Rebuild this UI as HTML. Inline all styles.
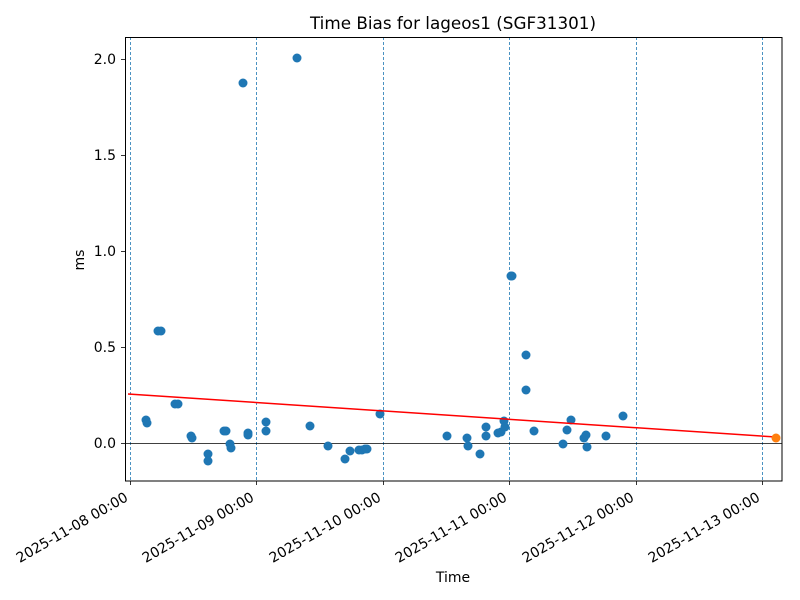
<!DOCTYPE html>
<html><head><meta charset="utf-8"><style>body{margin:0;background:#fff}svg{display:block}text{font-family:"DejaVu Sans","Liberation Sans",sans-serif;fill:#000}</style></head><body>
<svg width="800" height="600" xmlns="http://www.w3.org/2000/svg">
<rect width="800" height="600" fill="#fff"/>
<g stroke="#1f77b4" stroke-width="0.8" stroke-dasharray="3,2">
<line x1="130.5" y1="37" x2="130.5" y2="481"/><line x1="256.5" y1="37" x2="256.5" y2="481"/><line x1="383.5" y1="37" x2="383.5" y2="481"/><line x1="509.5" y1="37" x2="509.5" y2="481"/><line x1="636.5" y1="37" x2="636.5" y2="481"/><line x1="762.5" y1="37" x2="762.5" y2="481"/>
</g>
<line x1="125" y1="443.5" x2="782" y2="443.5" stroke="#000" stroke-width="0.8"/>
<g fill="#1f77b4">
<circle cx="146" cy="420" r="4.5"/><circle cx="147" cy="423" r="4.5"/><circle cx="158" cy="331" r="4.5"/><circle cx="161" cy="331" r="4.5"/><circle cx="175" cy="404" r="4.5"/><circle cx="178" cy="404" r="4.5"/><circle cx="191" cy="436" r="4.5"/><circle cx="192" cy="438" r="4.5"/><circle cx="208" cy="454" r="4.5"/><circle cx="208" cy="461" r="4.5"/><circle cx="224" cy="431" r="4.5"/><circle cx="226" cy="431" r="4.5"/><circle cx="230" cy="444" r="4.5"/><circle cx="231" cy="448" r="4.5"/><circle cx="243" cy="83" r="4.5"/><circle cx="248" cy="433" r="4.5"/><circle cx="248" cy="435" r="4.5"/><circle cx="266" cy="422" r="4.5"/><circle cx="266" cy="431" r="4.5"/><circle cx="297" cy="58" r="4.5"/><circle cx="310" cy="426" r="4.5"/><circle cx="328" cy="446" r="4.5"/><circle cx="345" cy="459" r="4.5"/><circle cx="350" cy="451" r="4.5"/><circle cx="359" cy="450" r="4.5"/><circle cx="362" cy="450" r="4.5"/><circle cx="365" cy="449" r="4.5"/><circle cx="367" cy="449" r="4.5"/><circle cx="380" cy="414" r="4.5"/><circle cx="447" cy="436" r="4.5"/><circle cx="467" cy="438" r="4.5"/><circle cx="468" cy="446" r="4.5"/><circle cx="480" cy="454" r="4.5"/><circle cx="486" cy="427" r="4.5"/><circle cx="486" cy="436" r="4.5"/><circle cx="498" cy="433" r="4.5"/><circle cx="501" cy="432" r="4.5"/><circle cx="504" cy="421" r="4.5"/><circle cx="505" cy="427" r="4.5"/><circle cx="511" cy="276" r="4.5"/><circle cx="512" cy="276" r="4.5"/><circle cx="526" cy="355" r="4.5"/><circle cx="526" cy="390" r="4.5"/><circle cx="534" cy="431" r="4.5"/><circle cx="563" cy="444" r="4.5"/><circle cx="567" cy="430" r="4.5"/><circle cx="571" cy="420" r="4.5"/><circle cx="584" cy="438" r="4.5"/><circle cx="586" cy="435" r="4.5"/><circle cx="587" cy="447" r="4.5"/><circle cx="606" cy="436" r="4.5"/><circle cx="623" cy="416" r="4.5"/>
</g>
<line x1="128" y1="394" x2="776" y2="437" stroke="#ff0000" stroke-width="1.5"/>
<circle cx="776" cy="438" r="4.5" fill="#ff7f0e"/>
<rect x="125.5" y="37.5" width="656.5" height="443.5" fill="none" stroke="#000" stroke-width="1"/>
<g stroke="#000" stroke-width="0.8">
<line x1="121" y1="59.5" x2="125" y2="59.5"/><line x1="121" y1="155.5" x2="125" y2="155.5"/><line x1="121" y1="251.5" x2="125" y2="251.5"/><line x1="121" y1="347.5" x2="125" y2="347.5"/><line x1="121" y1="443.5" x2="125" y2="443.5"/>
<line x1="130.5" y1="481" x2="130.5" y2="485"/><line x1="256.5" y1="481" x2="256.5" y2="485"/><line x1="383.5" y1="481" x2="383.5" y2="485"/><line x1="509.5" y1="481" x2="509.5" y2="485"/><line x1="636.5" y1="481" x2="636.5" y2="485"/><line x1="762.5" y1="481" x2="762.5" y2="485"/>
</g>
<g font-size="14" text-anchor="end">
<text x="116" y="64">2.0</text><text x="116" y="160">1.5</text><text x="116" y="256">1.0</text><text x="116" y="352">0.5</text><text x="116" y="448">0.0</text>
<text transform="translate(129,500) rotate(-30)">2025-11-08 00:00</text>
<text transform="translate(255,500) rotate(-30)">2025-11-09 00:00</text>
<text transform="translate(382,500) rotate(-30)">2025-11-10 00:00</text>
<text transform="translate(508,500) rotate(-30)">2025-11-11 00:00</text>
<text transform="translate(635,500) rotate(-30)">2025-11-12 00:00</text>
<text transform="translate(761,500) rotate(-30)">2025-11-13 00:00</text>
</g>
<text x="453" y="582" font-size="14" text-anchor="middle">Time</text>
<text transform="translate(84,260) rotate(-90)" font-size="14" text-anchor="middle">ms</text>
<text x="453" y="29" font-size="16.8" text-anchor="middle">Time Bias for lageos1 (SGF31301)</text>
</svg>
</body></html>
